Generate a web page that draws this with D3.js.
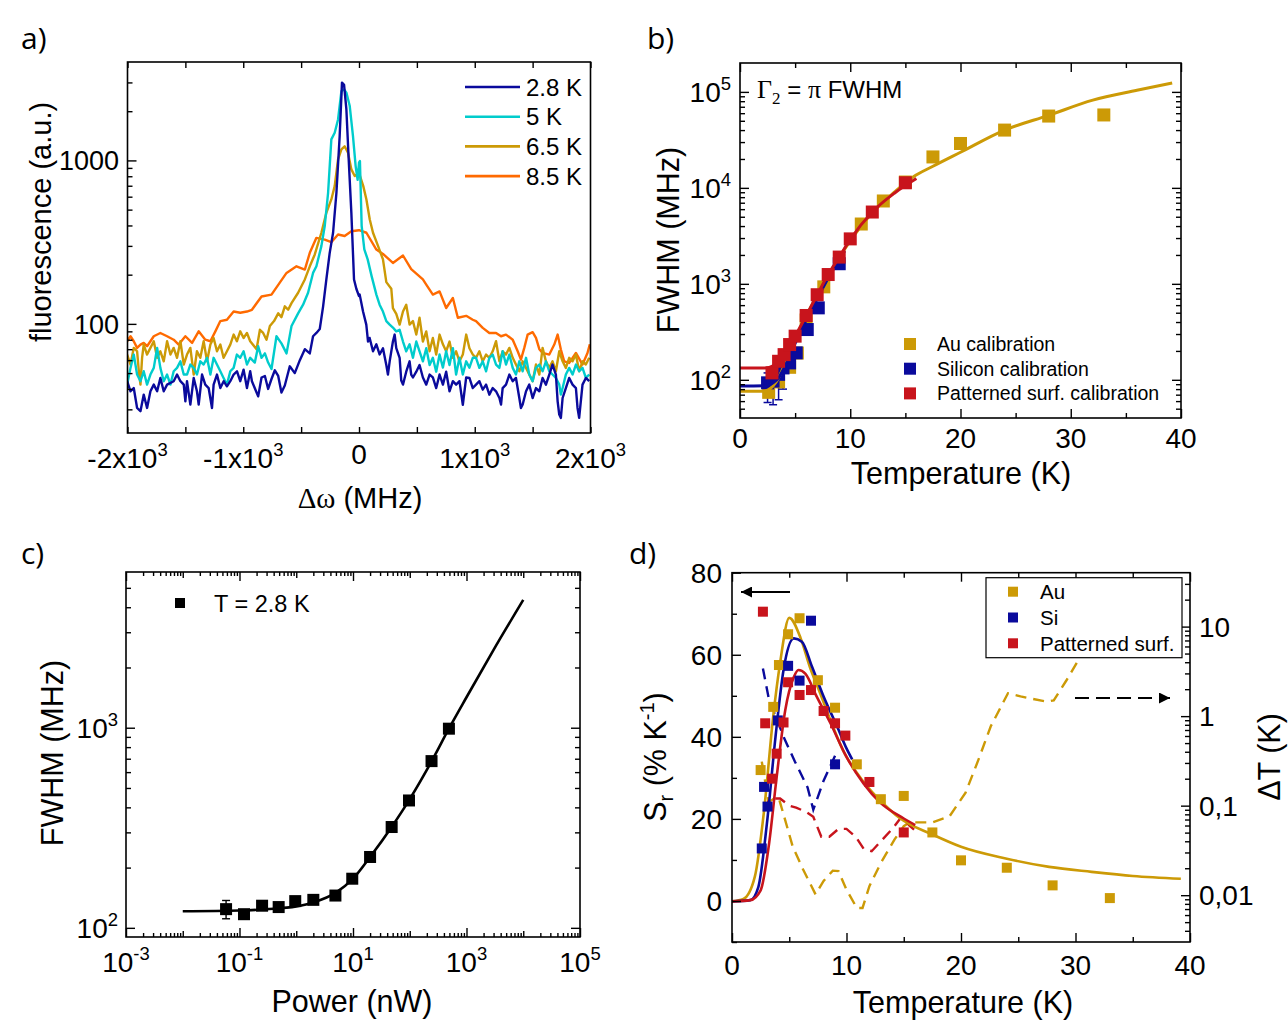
<!DOCTYPE html>
<html>
<head>
<meta charset="utf-8">
<script src="https://cdn.jsdelivr.net/npm/d3@7"></script>
<style>
body { margin: 0; background: #fff; }
svg { display: block; }
text { font-family: 'Liberation Sans', Arial, sans-serif; fill: #000; }
</style>
</head>
<body>
<svg id="fig" width="1288" height="1030"></svg>
<script>
// ---- a) fluorescence spectra  [detuning MHz, counts]
const spec28 = [[-2003,44.6],[-1974,38.7],[-1946,40.5],[-1917,30.6],[-1888,29.2],[-1860,36.9],[-1831,30.6],[-1802,38.7],[-1773,42.5],[-1744,38.7],[-1716,46.7],[-1687,38.7],[-1658,42.5],[-1601,44.6],[-1572,49],[-1543,44.6],[-1514,42.5],[-1500,33.6],[-1486,44.6],[-1457,32.1],[-1428,46.7],[-1400,38.7],[-1385,32.1],[-1356,49],[-1328,42.5],[-1299,40.5],[-1270,30.6],[-1256,42.5],[-1227,49],[-1198,40.5],[-1169,44.6],[-1141,41.5],[-1112,44.6],[-1083,49],[-1054,51.3],[-1026,44.6],[-997,52.5],[-968,40.5],[-940,51.3],[-925,44.6],[-871,36],[-842,47],[-813,48],[-785,40],[-756,46],[-727,52],[-698,48],[-670,38],[-641,42],[-598,55],[-555,50],[-511,60],[-468,70],[-425,66],[-397,84],[-368,88],[-339,93],[-310,128],[-282,187],[-253,272],[-224,361],[-195,634],[-167,1410],[-147,2990],[-129,2900],[-109,2050],[-89,1014],[-66,478],[-43,187],[-23,164],[0,148],[6,151],[35,119],[63,99],[78,78],[92,82],[121,68],[150,75],[178,65],[207,71],[236,56],[250,49],[265,59],[293,78],[308,86],[322,71],[351,62],[365,45],[380,42.5],[408,51],[437,59],[451,49],[466,47],[495,51],[523,56],[552,47],[581,42.5],[610,49],[638,47],[667,40.5],[696,49],[725,42.5],[753,51],[782,38.7],[811,44.6],[839,42.5],[868,44.6],[897,32],[926,47],[954,46.7],[983,40.5],[1011,42.5],[1040,44.6],[1069,39.6],[1098,42.5],[1126,36.9],[1155,40.5],[1184,38.7],[1213,35.2],[1227,32.1],[1241,40.5],[1270,42.5],[1299,49],[1328,44.6],[1356,46.7],[1385,35.2],[1399,30.6],[1414,32.1],[1443,38.7],[1471,42.5],[1500,35.2],[1529,40.5],[1558,38.7],[1586,46.7],[1615,42.5],[1644,49],[1672,56.4],[1701,49],[1716,33.6],[1730,27.9],[1744,26.6],[1759,35.2],[1787,40.5],[1816,46.7],[1845,42.5],[1874,40.5],[1888,30.6],[1902,26.6],[1931,42.5],[1960,46.7],[1989,44.6]]
const spec5 = [[-2003,42.5],[-1974,53.8],[-1946,64.9],[-1917,49],[-1888,44.6],[-1860,51.3],[-1831,42.5],[-1802,49],[-1773,53.8],[-1744,71.3],[-1716,53.8],[-1687,44.6],[-1658,49],[-1629,42.5],[-1601,51.3],[-1572,53.8],[-1543,59],[-1514,49],[-1486,49],[-1457,56.4],[-1428,53.8],[-1400,49],[-1371,59],[-1342,56.4],[-1313,62],[-1284,49],[-1256,62],[-1227,56.4],[-1198,51.3],[-1170,46.7],[-1141,42.5],[-1112,51.3],[-1083,53.8],[-1055,64.9],[-1026,62],[-997,68],[-968,56.4],[-940,62],[-900,58],[-871,73],[-842,62],[-813,66],[-785,58],[-756,53],[-713,84],[-670,76],[-626,66],[-583,97],[-526,116],[-483,131],[-440,155],[-397,205],[-368,225],[-325,299],[-296,397],[-267,634],[-239,1345],[-210,1477],[-181,1780],[-152,2650],[-129,2720],[-109,2600],[-80,2150],[-52,1410],[-29,923],[-12,760],[0,968],[8,990],[23,397],[46,286],[75,248],[109,196],[150,151],[178,131],[207,119],[236,104],[265,99],[293,95],[322,90],[351,92],[380,78],[408,68],[437,75],[466,62],[495,78],[523,68],[552,59],[581,71],[610,56],[638,62],[667,51],[696,65],[725,54],[753,68],[782,56],[811,71],[839,49],[868,62],[897,49],[926,59],[954,54],[983,62],[1011,62],[1040,53.8],[1069,59],[1098,51.3],[1126,62],[1155,64.9],[1184,56.4],[1213,53.8],[1241,68],[1270,56.4],[1299,64.9],[1328,53.8],[1356,49],[1385,59],[1414,51.3],[1443,62],[1471,49],[1500,44.6],[1529,53.8],[1558,56.4],[1586,51.3],[1615,59],[1644,51.3],[1672,49],[1701,46.7],[1730,42.5],[1744,36.9],[1759,40.5],[1787,49],[1816,53.8],[1845,49],[1874,56.4],[1902,51.3],[1931,53.8],[1960,46.7],[1989,49]]
const spec65 = [[-2003,64.9],[-1974,56.4],[-1946,71.3],[-1917,68],[-1902,51.3],[-1888,42.5],[-1874,62],[-1860,74.7],[-1831,64.9],[-1802,71.3],[-1773,78.3],[-1744,62],[-1716,68],[-1687,59],[-1658,78.3],[-1629,64.9],[-1601,71.3],[-1572,62],[-1543,78.3],[-1514,56.4],[-1486,64.9],[-1457,71.3],[-1428,49],[-1400,68],[-1371,62],[-1342,78.3],[-1313,59],[-1284,74.7],[-1256,82],[-1227,68],[-1198,74.7],[-1170,62],[-1141,68],[-1112,74.7],[-1083,86],[-1055,78.3],[-1026,90],[-997,82],[-968,88],[-940,78.3],[-885,70],[-856,92],[-828,88],[-799,80],[-770,97],[-734,104],[-698,116],[-670,110],[-641,128],[-612,122],[-583,134],[-526,155],[-468,187],[-425,225],[-382,266],[-325,361],[-282,478],[-239,577],[-210,696],[-181,1014],[-152,1168],[-124,1220],[-95,1114],[-66,881],[-37,802],[0,840],[37,696],[64,577],[93,435],[121,361],[165,299],[207,248],[236,180],[279,164],[293,125],[322,115],[351,99],[380,119],[408,131],[437,99],[466,104],[495,86],[523,109],[552,78],[581,90],[610,68],[638,82],[667,65],[696,86],[725,75],[753,68],[782,78],[811,62],[839,68],[868,59],[897,65],[926,86],[954,71],[983,65],[1011,62],[1040,68],[1069,59],[1098,64.9],[1126,62],[1155,68],[1184,78.3],[1213,59],[1241,68],[1270,64.9],[1299,71.3],[1328,62],[1356,56.4],[1385,51.3],[1414,59],[1443,53.8],[1471,49],[1500,44.6],[1529,56.4],[1558,49],[1586,71.3],[1615,59],[1644,53.8],[1672,59],[1701,51.3],[1730,68],[1759,59],[1787,53.8],[1816,62],[1845,59],[1874,64.9],[1902,51.3],[1931,59],[1960,56.4],[1989,62]]
const spec85 = [[-2003,78.3],[-1974,84],[-1946,78.3],[-1917,71.3],[-1888,74.7],[-1860,76.5],[-1831,73],[-1802,78.3],[-1773,84],[-1716,88],[-1658,84],[-1601,80],[-1558,74.7],[-1500,84],[-1442,76.5],[-1385,90],[-1328,80],[-1284,78.3],[-1241,90],[-1198,104],[-1141,106],[-1083,119],[-1026,117],[-968,119],[-925,122],[-842,147],[-756,151],[-626,205],[-540,225],[-468,215],[-425,272],[-368,336],[-296,328],[-239,316],[-181,352],[-124,345],[-66,369],[0,374],[64,361],[150,285],[207,268],[293,236],[380,262],[451,216],[552,187],[581,174],[638,151],[696,158],[753,125],[811,144],[854,109],[926,112],[983,106],[1011,104],[1069,94.5],[1126,88],[1184,88],[1227,84],[1270,86],[1328,80],[1371,68],[1399,60.4],[1428,71.3],[1457,86],[1500,89],[1529,82],[1558,70],[1586,66.4],[1644,64.9],[1687,74.7],[1716,86],[1744,69.6],[1773,59],[1816,57.7],[1874,66.4],[1931,56.4],[1974,66.4],[1994,75]]
const specNames = ["2.8 K", "5 K", "6.5 K", "8.5 K"]

// ---- b) linewidth vs temperature  [T (K), FWHM (MHz)]
const fwhmAu = [[2.6,74],[3.5,95],[4.5,135],[5.2,190],[6,420],[7.6,930],[11,4200],[13,7300],[15,11500],[17.5,21000],[20,29000],[24,40000],[28,56000],[33,57500]]
const fwhmSi = [[2.5,93],[3.0,97],[3.5,114],[3.9,133],[4.5,150],[5.1,191],[6.1,334],[7.1,562],[9.0,1620]]
const fwhmSiLo = [58, 55, 62, 80, 120, 170, 300, 520, 1500]
const fwhmSiHi = [118, 125, 128, 150, 170, 210, 360, 600, 1750]
const fwhmPat = [[2.9,118],[3.5,156],[4.0,183],[4.5,233],[5.0,285],[6.0,468],[7.0,770],[8.0,1250],[9.0,1900],[10,2940],[12,5600],[15,11300]]
const fitAu = [[0,76],[2,76],[2.5,78],[3,86],[3.5,105],[4,140],[5,265],[6,460],[7,760],[8,1220],[9,1880],[10,2800],[12,5500],[14,9000],[15.7,13000],[17.5,16800],[20,23500],[24,40000],[28,57000],[32,82000],[36,104000],[39.2,124000]]
const fitSi = [[0,86],[2.5,87],[3,93],[3.5,105],[4,132],[5,240],[6,420],[7,700],[8,1150],[9,1800],[9.5,2200]]
const fitPat = [[0,133],[2.3,133],[3,140],[3.5,155],[4,185],[5,285],[6,465],[7,765],[8,1250],[9,1900],[10,2900],[12,5600],[14,8800],[16,12500]]
const calibNames = ["Au calibration", "Silicon calibration", "Patterned surf. calibration"]

// ---- c) power broadening  [P (nW), FWHM (MHz)]
const powerP = [0.058, 0.12, 0.25, 0.49, 0.96, 2.0, 4.9, 9.7, 20, 48, 97, 242, 490]
const powerW = [124, 117, 129, 127, 136, 138, 145, 176, 226, 319, 433, 681, 989]
const powerErr = [13, 4, 5, 4, 6, 4, 4, 5, 6, 8, 10, 15, 20]
const powerFit = [[0.01,121],[0.1,122],[0.3,124],[1,128],[2,134],[5,150],[10,176],[20,226],[50,325],[100,440],[250,690],[500,1000],[1000,1420],[3000,2450],[10000,4350]]

// ---- d) relative sensitivity and temperature uncertainty
const srAu = [[2.5,31.9],[3.6,47.3],[4.1,57.5],[4.9,65.0],[5.9,68.9],[7.5,53.8],[9.0,47.1],[10.9,33.3],[13.0,24.8],[15.0,25.6],[17.5,16.7],[20.0,9.9],[24.0,8.1],[28.0,3.8],[33.0,0.7]]
const srSi = [[2.6,12.8],[2.8,27.8],[3.1,23.0],[4.0,44.0],[4.9,57.3],[5.9,53.7],[6.9,68.3],[9.0,33.3]]
const srPat = [[2.7,70.5],[2.9,43.3],[3.5,29.8],[3.9,35.9],[4.5,43.5],[4.9,53.3],[5.9,50.2],[6.9,51.4],[8.0,46.3],[9.0,43.3],[9.9,40.3],[12.0,29.0],[15.0,16.7]]
const srFitAu = [[0,-0.1],[1,0.5],[2,6],[2.8,22],[3.6,45],[4.2,58],[5.0,69],[6.0,64],[6.8,57],[7.7,50.6],[8.6,44],[9.7,36.7],[11.5,29],[12.9,24.6],[14.7,20.1],[17.5,16.2],[20,13.2],[24,10.3],[27.7,8.3],[31.4,7.1],[35,6.1],[39.2,5.4]]
const srFitSi = [[0,-0.1],[1.6,0.2],[2.3,3.4],[3.05,18.9],[3.8,40],[4.5,56.3],[5.4,64],[6.1,63.2],[7,57],[8,49.8],[9.2,42.4],[10,37.2],[10.5,34.5]]
const srFitPat = [[0,-0.1],[1.6,0.2],[2.5,2.6],[3.2,13.2],[3.9,30.2],[4.65,46.5],[5.4,54.6],[5.8,56.3],[6.4,55.4],[7.4,49.8],[8.6,43.3],[10,35.1],[11.5,28.6],[12.9,24.1],[15,20.1],[16,18.5]]
const dtAu = [[2.6,0.31],[3.2,0.11],[3.7,0.12],[4.1,0.12],[4.5,0.08],[5.3,0.035],[6.2,0.0195],[7.3,0.0102],[8.0,0.0144],[8.8,0.0188],[9.3,0.0186],[10.0,0.0115],[10.9,0.0072],[11.4,0.0072],[12.0,0.0126],[13.0,0.0229],[14.2,0.042],[15.0,0.059],[15.5,0.065],[17.5,0.065],[19,0.076],[20.4,0.14],[21.5,0.32],[22.6,0.77],[24.1,1.8],[25.2,1.66],[27.5,1.45],[28.1,1.5],[29.2,2.5],[30.5,4.8],[31.5,8]]
const dtSi = [[2.7,3.4],[3.2,1.6],[3.8,1.0],[4.6,0.55],[5.5,0.31],[6.6,0.16],[7.1,0.09],[8.0,0.19],[9.0,0.36]]
const dtPat = [[2.8,0.09],[3.3,0.12],[4.2,0.12],[5.0,0.1],[5.6,0.095],[6.5,0.085],[7.1,0.075],[7.8,0.045],[8.5,0.045],[9.3,0.055],[10.0,0.055],[10.8,0.045],[11.5,0.033],[12.2,0.031],[13.0,0.04],[14.0,0.055],[14.8,0.075],[15.5,0.06],[16.2,0.05]]
const sampleNames = ["Au", "Si", "Patterned surf."]

const NAVY = "#0a0a9c", CYAN = "#00cccc", GOLD = "#cc9a06", ORANGE = "#ff6a00", RED = "#c8141c"
const SERIF = "'Liberation Serif', 'Times New Roman', serif"
const TICK_FS = 28, TITLE_FS = 30.5

const svg = d3.select("#fig")

//--- helpers
function logMinors(lo, hi) {
    const v = []
    for (let e = Math.floor(Math.log10(lo)); e <= Math.ceil(Math.log10(hi)); e++)
        for (let m = 2; m <= 9; m++) {
            const t = m * Math.pow(10, e)
            if (t > lo && t < hi) v.push(t)
        }
    return v
}

function tickSet(g, scale, side, values, len, pos) {
    const maker = {left: d3.axisLeft, right: d3.axisRight, top: d3.axisTop, bottom: d3.axisBottom}[side]
    const ax = maker(scale).tickValues(values).tickSize(-len).tickFormat("")
    const t = (side === "left" || side === "right") ? `translate(${pos},0)` : `translate(0,${pos})`
    const a = g.append("g").attr("transform", t).call(ax)
    a.select(".domain").remove()
    a.selectAll("line").attr("stroke", "#000").attr("stroke-width", 1.4)
}

function frame(g, x, y) {
    const [x0, x1] = x.range(), [y1, y0] = y.range()
    g.append("rect").attr("x", x0).attr("y", y0).attr("width", x1 - x0).attr("height", y1 - y0)
        .attr("fill", "none").attr("stroke", "#000").attr("stroke-width", 1.6)
}

function clip(id, x, y) {
    const [x0, x1] = x.range(), [y1, y0] = y.range()
    svg.append("clipPath").attr("id", id).append("rect")
        .attr("x", x0).attr("y", y0).attr("width", x1 - x0).attr("height", y1 - y0)
    return `url(#${id})`
}

// label with an optional superscript part
function supText(sel, base, sup, size) {
    sel.append("tspan").text(base)
    if (sup) sel.append("tspan").attr("dy", -size * 0.42).attr("font-size", size * 0.66).text(sup)
}

function panelLetter(txt, x, y) {
    svg.append("text").attr("x", x).attr("y", y).attr("font-size", 30)
        .style("font-family", "'Open Sans', 'Noto Sans', sans-serif").text(txt)
}

function squares(g, data, x, y, color, size) {
    g.selectAll(null).data(data).join("rect")
        .attr("x", d => x(d[0]) - size / 2).attr("y", d => y(d[1]) - size / 2)
        .attr("width", size).attr("height", size).attr("fill", color)
}

//=================== a) spectra
{
    const x = d3.scaleLinear([-2000, 2000], [127.5, 590.5])
    const y = d3.scaleLog([21.5, 4000], [433, 62])
    const g = svg.append("g")
    const cp = clip("clipA", x, y)
    const line = d3.line().x(d => x(d[0])).y(d => y(d[1]))
    const series = [[spec85, ORANGE], [spec65, GOLD], [spec5, CYAN], [spec28, NAVY]]
    series.forEach(([d, c]) => g.append("path").attr("d", line(d)).attr("clip-path", cp)
        .attr("fill", "none").attr("stroke", c).attr("stroke-width", 2.4).attr("stroke-linejoin", "round"))

    const xt = d3.range(-2000, 2001, 500)
    tickSet(g, x, "bottom", xt, 6, 433)
    tickSet(g, x, "top", xt, 6, 62)
    tickSet(g, y, "left", [100, 1000], 9, 127.5)
    tickSet(g, y, "left", logMinors(21.5, 4000).filter(v => v !== 100 && v !== 1000), 5, 127.5)
    frame(g, x, y)

    const xl = [[-2000, "-2x10", "3"], [-1000, "-1x10", "3"], [0, "0", null], [1000, "1x10", "3"], [2000, "2x10", "3"]]
    xl.forEach(([v, b, s]) => {
        const t = g.append("text").attr("x", x(v)).attr("y", s ? 468 : 464).attr("text-anchor", "middle").attr("font-size", TICK_FS)
        supText(t, b, s, TICK_FS)
    })
    ;[1000, 100].forEach(v => g.append("text").attr("x", 119).attr("y", y(v) + 10)
        .attr("text-anchor", "end").attr("font-size", 27).text(v))

    g.append("text").attr("transform", "translate(51,222) rotate(-90)").attr("text-anchor", "middle")
        .attr("font-size", 29).text("fluorescence (a.u.)")
    const xt2 = g.append("text").attr("x", 360).attr("y", 508).attr("text-anchor", "middle").attr("font-size", 29)
    xt2.append("tspan").style("font-family", SERIF).text("Δω")
    xt2.append("tspan").text(" (MHz)")

    // legend
    const cols = [NAVY, CYAN, GOLD, ORANGE]
    specNames.forEach((n, i) => {
        const yy = 87 + i * 29.7
        g.append("line").attr("x1", 465).attr("x2", 520).attr("y1", yy).attr("y2", yy)
            .attr("stroke", cols[i]).attr("stroke-width", 2.6)
        g.append("text").attr("x", 526).attr("y", yy + 8.5).attr("font-size", 24).text(n)
    })
    panelLetter("a)", 21, 49)
}

//=================== b) FWHM vs T
{
    const x = d3.scaleLinear([0, 40], [740, 1181])
    const y = d3.scaleLog([40, 200000], [418, 63])
    const g = svg.append("g")
    const cp = clip("clipB", x, y)
    const line = d3.line().x(d => x(d[0])).y(d => y(d[1])).curve(d3.curveMonotoneX)

    // error bars (silicon, low T)
    fwhmSi.forEach((d, i) => {
        g.append("line").attr("x1", x(d[0])).attr("x2", x(d[0])).attr("y1", y(fwhmSiLo[i])).attr("y2", y(fwhmSiHi[i]))
            .attr("stroke", NAVY).attr("stroke-width", 1.5)
        ;[fwhmSiLo[i], fwhmSiHi[i]].forEach(v => g.append("line").attr("x1", x(d[0]) - 4).attr("x2", x(d[0]) + 4)
            .attr("y1", y(v)).attr("y2", y(v)).attr("stroke", NAVY).attr("stroke-width", 1.5))
    })
    squares(g, fwhmAu, x, y, GOLD, 13)
    squares(g, fwhmSi, x, y, NAVY, 13)
    g.append("path").attr("d", line(fitAu)).attr("clip-path", cp).attr("fill", "none").attr("stroke", GOLD).attr("stroke-width", 3)
    g.append("path").attr("d", line(fitSi)).attr("clip-path", cp).attr("fill", "none").attr("stroke", NAVY).attr("stroke-width", 3)
    g.append("path").attr("d", line(fitPat)).attr("clip-path", cp).attr("fill", "none").attr("stroke", RED).attr("stroke-width", 3)
    squares(g, fwhmPat, x, y, RED, 13)

    const majX = [0, 10, 20, 30, 40], minX = [5, 15, 25, 35]
    const majY = [100, 1000, 10000, 100000], minY = logMinors(40, 200000).filter(v => !majY.includes(v))
    tickSet(g, x, "bottom", majX, 9, 418); tickSet(g, x, "bottom", minX, 5, 418)
    tickSet(g, x, "top", majX, 9, 63); tickSet(g, x, "top", minX, 5, 63)
    tickSet(g, y, "left", majY, 9, 740); tickSet(g, y, "left", minY, 5, 740)
    tickSet(g, y, "right", majY, 9, 1181); tickSet(g, y, "right", minY, 5, 1181)
    frame(g, x, y)

    majX.forEach(v => g.append("text").attr("x", x(v)).attr("y", 448).attr("text-anchor", "middle").attr("font-size", TICK_FS).text(v))
    majY.forEach(v => {
        const t = g.append("text").attr("x", 731).attr("y", y(v) + 10).attr("text-anchor", "end").attr("font-size", TICK_FS)
        supText(t, "10", String(Math.round(Math.log10(v))), TICK_FS)
    })
    g.append("text").attr("transform", "translate(679,240) rotate(-90)").attr("text-anchor", "middle")
        .attr("font-size", TITLE_FS).text("FWHM (MHz)")
    g.append("text").attr("x", 961).attr("y", 484).attr("text-anchor", "middle").attr("font-size", TITLE_FS).text("Temperature (K)")

    const ann = g.append("text").attr("x", 757).attr("y", 98).attr("font-size", 24)
    ann.append("tspan").style("font-family", SERIF).attr("font-size", 26).text("Γ")
    ann.append("tspan").style("font-family", SERIF).attr("font-size", 17).attr("dy", 6).text("2")
    ann.append("tspan").attr("dy", -6).text(" = ")
    ann.append("tspan").style("font-family", SERIF).attr("font-size", 26).text("π")
    ann.append("tspan").text(" FWHM")

    const lc = [GOLD, NAVY, RED]
    calibNames.forEach((n, i) => {
        const yy = 344 + i * 24.7
        g.append("rect").attr("x", 904).attr("y", yy - 6).attr("width", 12).attr("height", 12).attr("fill", lc[i])
        g.append("text").attr("x", 937).attr("y", yy + 7).attr("font-size", 19.5).text(n)
    })
    panelLetter("b)", 647, 49)
}

//=================== c) power broadening
{
    const x = d3.scaleLog([1e-3, 1e5], [126, 580])
    const y = d3.scaleLog([90, 6000], [937, 572])
    const g = svg.append("g")
    const cp = clip("clipC", x, y)
    const line = d3.line().x(d => x(d[0])).y(d => y(d[1])).curve(d3.curveMonotoneX)
    g.append("path").attr("d", line(powerFit)).attr("clip-path", cp).attr("fill", "none")
        .attr("stroke", "#000").attr("stroke-width", 2.6)
    const pts = powerP.map((p, i) => [p, powerW[i]])
    pts.forEach((d, i) => {
        const lo = y(d[1] - powerErr[i]), hi = y(d[1] + powerErr[i]), xx = x(d[0])
        g.append("line").attr("x1", xx).attr("x2", xx).attr("y1", lo).attr("y2", hi).attr("stroke", "#000").attr("stroke-width", 1.4)
        ;[lo, hi].forEach(v => g.append("line").attr("x1", xx - 4).attr("x2", xx + 4).attr("y1", v).attr("y2", v)
            .attr("stroke", "#000").attr("stroke-width", 1.4))
    })
    squares(g, pts, x, y, "#000", 12)

    const majX = [1e-3, 1e-1, 1e1, 1e3, 1e5], midX = [1e-2, 1, 1e2, 1e4]
    const minX = logMinors(1e-3, 1e5)
    const majY = [100, 1000], minY = logMinors(90, 6000).filter(v => !majY.includes(v))
    ;[["bottom", 937], ["top", 572]].forEach(([s, p]) => {
        tickSet(g, x, s, majX, 9, p); tickSet(g, x, s, midX, 6, p); tickSet(g, x, s, minX, 4, p)
    })
    ;[["left", 126], ["right", 580]].forEach(([s, p]) => {
        tickSet(g, y, s, majY, 9, p); tickSet(g, y, s, minY, 5, p)
    })
    frame(g, x, y)

    majX.forEach(v => {
        const t = g.append("text").attr("x", x(v)).attr("y", 972).attr("text-anchor", "middle").attr("font-size", TICK_FS)
        supText(t, "10", String(Math.round(Math.log10(v))), TICK_FS)
    })
    majY.forEach(v => {
        const t = g.append("text").attr("x", 118).attr("y", y(v) + 10).attr("text-anchor", "end").attr("font-size", TICK_FS)
        supText(t, "10", String(Math.round(Math.log10(v))), TICK_FS)
    })
    g.append("text").attr("transform", "translate(63,753) rotate(-90)").attr("text-anchor", "middle")
        .attr("font-size", TITLE_FS).text("FWHM (MHz)")
    g.append("text").attr("x", 352).attr("y", 1012).attr("text-anchor", "middle").attr("font-size", TITLE_FS).text("Power (nW)")

    g.append("rect").attr("x", 175).attr("y", 598).attr("width", 10).attr("height", 10).attr("fill", "#000")
    g.append("text").attr("x", 214).attr("y", 612).attr("font-size", 23.5).text("T = 2.8 K")
    panelLetter("c)", 21, 564)
}

//=================== d) sensitivity and ΔT
{
    const x = d3.scaleLinear([0, 40], [732, 1190])
    const yL = d3.scaleLinear([-10, 80], [942, 572.7])
    const yR = d3.scaleLog([0.003, 40], [942, 572.7])
    const g = svg.append("g")
    const cp = clip("clipD", x, yL)
    const lineL = d3.line().x(d => x(d[0])).y(d => yL(d[1])).curve(d3.curveMonotoneX)
    const lineR = d3.line().x(d => x(d[0])).y(d => yR(d[1]))

    ;[[dtAu, GOLD], [dtSi, NAVY], [dtPat, RED]].forEach(([d, c]) =>
        g.append("path").attr("d", lineR(d)).attr("clip-path", cp).attr("fill", "none").attr("stroke", c)
            .attr("stroke-width", 2.4).attr("stroke-dasharray", "11,7"))
    ;[[srFitAu, GOLD], [srFitSi, NAVY], [srFitPat, RED]].forEach(([d, c]) =>
        g.append("path").attr("d", lineL(d)).attr("clip-path", cp).attr("fill", "none").attr("stroke", c)
            .attr("stroke-width", 2.6))
    squares(g, srAu, x, yL, GOLD, 10)
    squares(g, srSi, x, yL, NAVY, 10)
    squares(g, srPat, x, yL, RED, 10)

    const majX = [0, 10, 20, 30, 40], minX = [5, 15, 25, 35]
    const majY = [0, 20, 40, 60, 80], minY = [-10, 10, 30, 50, 70]
    const majR = [0.01, 0.1, 1, 10], minR = logMinors(0.003, 40).filter(v => !majR.includes(v))
    ;[["bottom", 942], ["top", 572.7]].forEach(([s, p]) => { tickSet(g, x, s, majX, 9, p); tickSet(g, x, s, minX, 5, p) })
    tickSet(g, yL, "left", majY, 9, 732); tickSet(g, yL, "left", minY, 5, 732)
    tickSet(g, yR, "right", majR, 9, 1190); tickSet(g, yR, "right", minR, 5, 1190)
    frame(g, x, yL)

    majX.forEach(v => g.append("text").attr("x", x(v)).attr("y", 975).attr("text-anchor", "middle").attr("font-size", TICK_FS).text(v))
    majY.forEach(v => g.append("text").attr("x", 722).attr("y", yL(v) + 10).attr("text-anchor", "end").attr("font-size", TICK_FS).text(v))
    const rl = ["0,01", "0,1", "1", "10"]
    majR.forEach((v, i) => g.append("text").attr("x", 1199).attr("y", yR(v) + 10).attr("font-size", TICK_FS).text(rl[i]))

    const yt = g.append("text").attr("transform", "translate(666,757) rotate(-90)").attr("text-anchor", "middle").attr("font-size", TITLE_FS)
    yt.append("tspan").text("S")
    yt.append("tspan").attr("font-size", 20).attr("dy", 7).text("r")
    yt.append("tspan").attr("dy", -7).text(" (% K")
    yt.append("tspan").attr("font-size", 20).attr("dy", -12).text("-1")
    yt.append("tspan").attr("dy", 12).text(")")
    g.append("text").attr("transform", "translate(1280,757) rotate(-90)").attr("text-anchor", "middle")
        .attr("font-size", TITLE_FS).text("ΔT (K)")
    g.append("text").attr("x", 963).attr("y", 1013).attr("text-anchor", "middle").attr("font-size", TITLE_FS).text("Temperature (K)")

    // arrows
    svg.append("defs").html(`<marker id="ah" viewBox="0 0 10 10" refX="10" refY="5" markerWidth="11" markerHeight="11" markerUnits="userSpaceOnUse" orient="auto-start-reverse"><path d="M0,0 L10,5 L0,10 z" fill="#000"/></marker>`)
    g.append("line").attr("x1", 790).attr("x2", 741).attr("y1", 592).attr("y2", 592)
        .attr("stroke", "#000").attr("stroke-width", 2).attr("marker-end", "url(#ah)")
    g.append("line").attr("x1", 1075).attr("x2", 1170).attr("y1", 698).attr("y2", 698)
        .attr("stroke", "#000").attr("stroke-width", 2).attr("stroke-dasharray", "14,7").attr("marker-end", "url(#ah)")

    // legend
    g.append("rect").attr("x", 986).attr("y", 577.7).attr("width", 196).attr("height", 80)
        .attr("fill", "#fff").attr("stroke", "#000").attr("stroke-width", 1.2)
    const lc = [GOLD, NAVY, RED]
    sampleNames.forEach((n, i) => {
        const yy = 591.7 + i * 25.8
        g.append("rect").attr("x", 1008).attr("y", yy - 5).attr("width", 10).attr("height", 10).attr("fill", lc[i])
        g.append("text").attr("x", 1040).attr("y", yy + 7.5).attr("font-size", 20.5).text(n)
    })
    panelLetter("d)", 629, 564)
}
</script>
</body>
</html>
